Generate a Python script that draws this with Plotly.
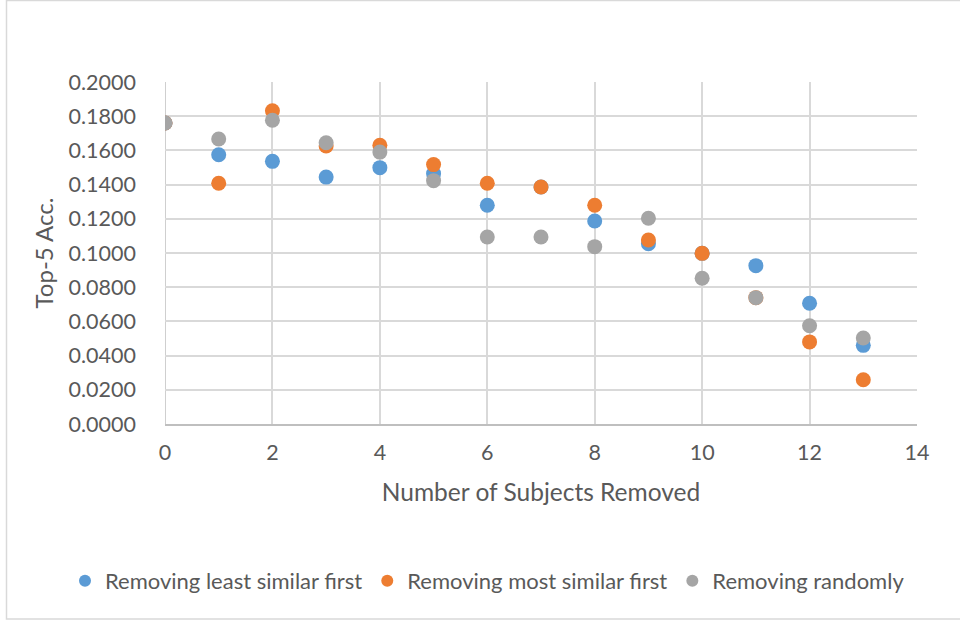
import plotly.graph_objects as go

# Number of subjects removed
subjects_removed = list(range(14))

# Top-5 accuracy for each removal strategy
least_similar_first = [0.1760, 0.1575, 0.1536, 0.1444, 0.1499, 0.1464, 0.1279,
                       0.1386, 0.1187, 0.1054, 0.0998, 0.0926, 0.0706, 0.0460]
most_similar_first = [0.1760, 0.1408, 0.1832, 0.1626, 0.1630, 0.1517, 0.1408,
                      0.1386, 0.1279, 0.1076, 0.0998, 0.0739, 0.0480, 0.0259]
randomly = [0.1760, 0.1667, 0.1776, 0.1645, 0.1590, 0.1423, 0.1094,
            0.1094, 0.1037, 0.1203, 0.0852, 0.0739, 0.0575, 0.0503]

series_names = ["Removing least similar first", "Removing most similar first",
                "Removing randomly"]
series_values = [least_similar_first, most_similar_first, randomly]
series_colors = ["#5B9BD5", "#ED7D31", "#A5A5A5"]

x_ticks = [0, 2, 4, 6, 8, 10, 12, 14]
y_ticks = [0.0, 0.02, 0.04, 0.06, 0.08, 0.10, 0.12, 0.14, 0.16, 0.18, 0.20]

FONT = "Lato, 'Open Sans', sans-serif"
TEXT = "#595959"
GRID = "#D9D9D9"

fig = go.Figure()
for name, vals, col in zip(series_names, series_values, series_colors):
    fig.add_trace(go.Scatter(
        x=subjects_removed, y=vals, mode="markers", name=name,
        marker=dict(size=15, color=col, line=dict(width=0)),
    ))

W, H = 960, 621
ml, mr, mt, mb = 165, 43, 82, 197
pw, ph = W - ml - mr, H - mt - mb


def px_to_paper_x(px):
    return (px - ml) / pw


def px_to_paper_y(py):
    return (H - mb - py) / ph


fig.update_layout(
    width=W, height=H,
    margin=dict(l=ml, r=mr, t=mt, b=mb, pad=0, autoexpand=False),
    paper_bgcolor="white", plot_bgcolor="white",
    font=dict(family=FONT, color=TEXT, size=21),
    showlegend=True,
    legend=dict(
        orientation="h", x=px_to_paper_x(65), xanchor="left",
        y=px_to_paper_y(581), yanchor="middle",
        font=dict(family=FONT, size=22, color=TEXT),
        itemsizing="constant", itemwidth=30, tracegroupgap=0,
        bgcolor="rgba(0,0,0,0)",
    ),
    xaxis=dict(
        range=[0, 14], tickvals=x_ticks, ticktext=[str(v) for v in x_ticks],
        showgrid=True, gridcolor=GRID, gridwidth=1.5,
        zeroline=False, showline=True, linecolor="#BFBFBF", linewidth=1.5,
        ticks="", ticklabelstandoff=8,
        tickfont=dict(family=FONT, size=21.5, color=TEXT),
        title=dict(text="Number of Subjects Removed", standoff=20,
                   font=dict(family=FONT, size=24.5, color=TEXT)),
        fixedrange=True,
    ),
    yaxis=dict(
        range=[0, 0.2], tickvals=y_ticks, ticktext=[f"{v:.4f}" for v in y_ticks],
        showgrid=True, gridcolor=GRID, gridwidth=1.5,
        zeroline=False, showline=False,
        ticks="", ticklabelstandoff=28,
        tickfont=dict(family=FONT, size=21.5, color=TEXT),
        title=dict(text="Top-5 Acc.", standoff=8,
                   font=dict(family=FONT, size=24, color=TEXT)),
        fixedrange=True,
    ),
    shapes=[
        # left vertical gridline at x=0
        dict(type="line", xref="x", yref="y", x0=0, x1=0, y0=0, y1=0.2,
             line=dict(color="#BFBFBF", width=1.5), layer="below"),
        # chart area border
        dict(type="rect", xref="paper", yref="paper",
             x0=px_to_paper_x(6.5), x1=px_to_paper_x(990),
             y0=px_to_paper_y(619), y1=px_to_paper_y(0.5),
             line=dict(color="#D9D9D9", width=1.5), layer="below"),
    ],
)

fig.write_html("out.html", include_plotlyjs=True, config={"displayModeBar": False})
